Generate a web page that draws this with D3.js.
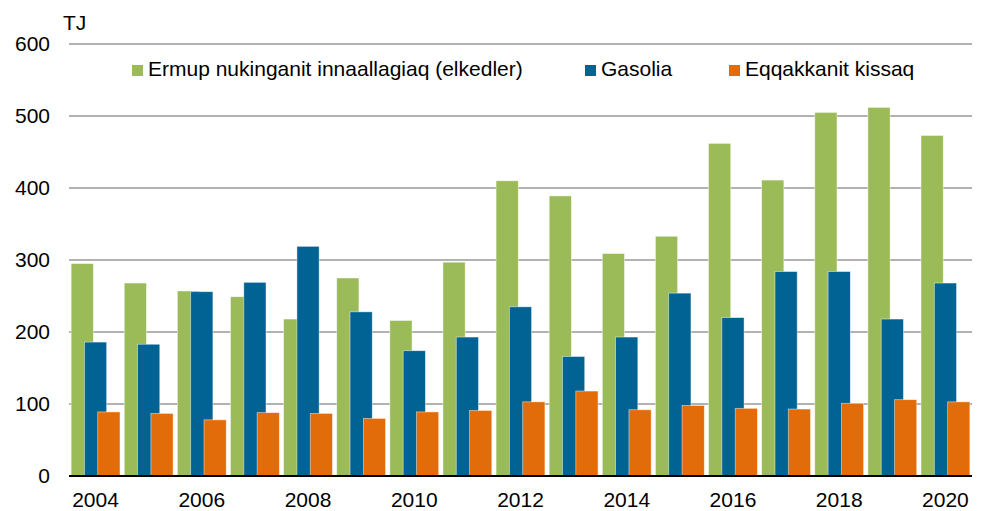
<!DOCTYPE html>
<html>
<head>
<meta charset="utf-8">
<script src="https://cdn.jsdelivr.net/npm/d3@7"></script>
<style>
  body { margin: 0; background: #fff; }
  svg text { font-family: "Liberation Sans", Arial, sans-serif; fill: #000; }
</style>
</head>
<body>
<div id="chart"></div>
<script>
// years and series (TJ)
const years = [2004, 2005, 2006, 2007, 2008, 2009, 2010, 2011, 2012, 2013, 2014, 2015, 2016, 2017, 2018, 2019, 2020];
const elkedler = [295, 268, 257, 249, 218, 275, 216, 297, 410, 389, 309, 333, 462, 411, 505, 512, 473];
const gasolia = [186, 183, 256, 269, 319, 228, 174, 193, 235, 166, 193, 254, 220, 284, 284, 218, 268];
const kissaq = [89, 87, 78, 88, 87, 80, 89, 91, 103, 118, 92, 98, 94, 93, 101, 106, 103];
const seriesNames = ["Ermup nukinganit innaallagiaq (elkedler)", "Gasolia", "Eqqakkanit kissaq"];
const colors = ["#9BBB59", "#006393", "#E36C0A"];
const yTicks = [0, 100, 200, 300, 400, 500, 600];
const xLabelYears = [2004, 2006, 2008, 2010, 2012, 2014, 2016, 2018, 2020];

const width = 983, height = 511;
const margin = {left: 69, right: 11, top: 44, bottom: 35};
const fontSize = "21px";

const svg = d3.select("#chart").append("svg")
    .attr("width", width)
    .attr("height", height);

const x = d3.scaleBand()
    .domain(years)
    .range([margin.left, width - margin.right])
    .paddingInner(0.08)
    .paddingOuter(0.04);

const y = d3.scaleLinear()
    .domain([0, 600])
    .range([height - margin.bottom, margin.top]);

// gridlines
svg.append("g")
    .selectAll("line")
    .data(yTicks.filter(d => d > 0))
    .enter().append("line")
    .attr("x1", margin.left)
    .attr("x2", width - margin.right)
    .attr("y1", d => y(d))
    .attr("y2", d => y(d))
    .attr("stroke", "#999")
    .attr("stroke-width", 1.5);

// bars, overlapping; later series drawn on top
const bw = x.bandwidth();
const barW = bw / (1 + 2 * 0.6);
const step = barW * 0.6;
const data = [elkedler, gasolia, kissaq];

data.forEach(function(vals, si) {
    svg.append("g")
        .selectAll("rect")
        .data(vals)
        .enter().append("rect")
        .attr("x", (d, i) => x(years[i]) + si * step)
        .attr("y", d => y(d))
        .attr("width", barW)
        .attr("height", d => y(0) - y(d))
        .attr("fill", colors[si])
        .attr("stroke", "#fff")
        .attr("stroke-opacity", 0.6)
        .attr("stroke-width", 0.75);
});

// baseline
svg.append("line")
    .attr("x1", margin.left)
    .attr("x2", width - margin.right)
    .attr("y1", y(0))
    .attr("y2", y(0))
    .attr("stroke", "#000")
    .attr("stroke-width", 2);

// y axis labels
svg.append("g")
    .selectAll("text")
    .data(yTicks)
    .enter().append("text")
    .attr("x", 50)
    .attr("y", d => y(d))
    .attr("dy", "0.35em")
    .attr("text-anchor", "end")
    .style("font-size", fontSize)
    .text(d => d);

svg.append("text")
    .attr("x", 63)
    .attr("y", 30)
    .style("font-size", fontSize)
    .text("TJ");

// x axis labels
svg.append("g")
    .selectAll("text")
    .data(xLabelYears)
    .enter().append("text")
    .attr("x", d => x(d) + bw / 2)
    .attr("y", 507)
    .attr("text-anchor", "middle")
    .style("font-size", fontSize)
    .text(d => d);

// legend
const legendX = [132, 585, 729];
const legend = svg.append("g")
    .selectAll("g")
    .data(seriesNames)
    .enter().append("g")
    .attr("transform", (d, i) => "translate(" + legendX[i] + ",65)");

legend.append("rect")
    .attr("width", 11)
    .attr("height", 11)
    .attr("fill", (d, i) => colors[i]);

legend.append("text")
    .attr("x", 16)
    .attr("y", 11)
    .style("font-size", fontSize)
    .text(d => d);
</script>
</body>
</html>
